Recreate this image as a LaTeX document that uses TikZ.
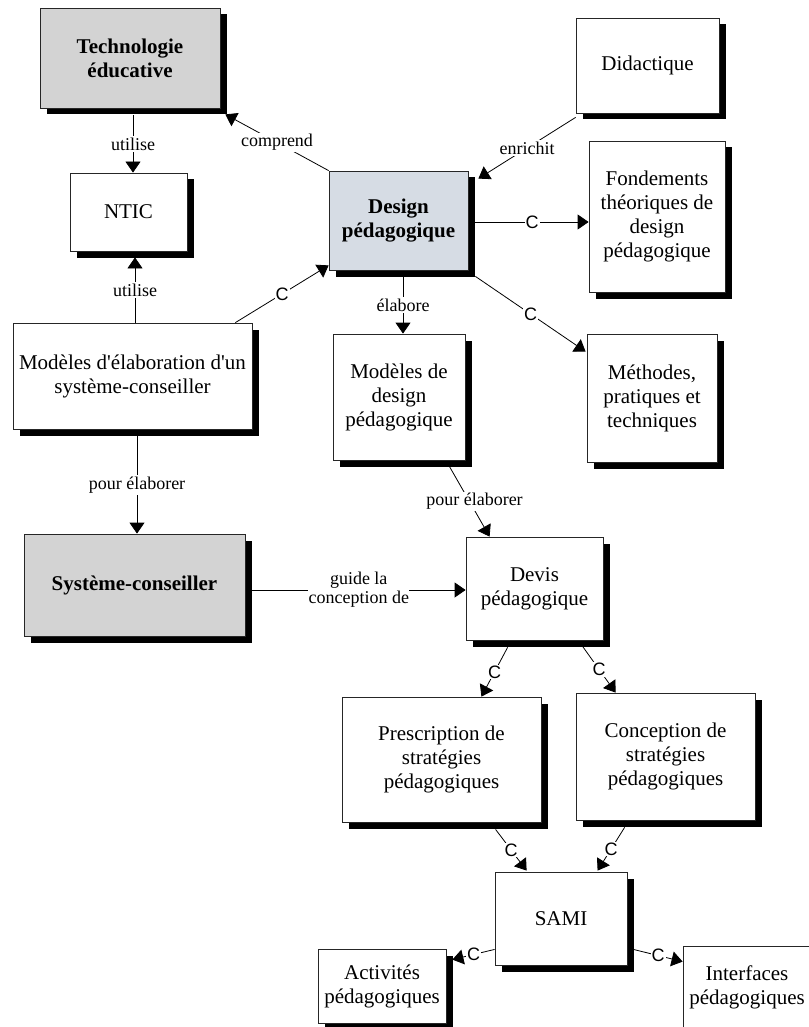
\documentclass[tikz,border=0pt]{standalone}
\usepackage{fontspec}
\setmainfont{Liberation Serif}
\newfontfamily\labsans{Liberation Sans}
\usetikzlibrary{arrows.meta,calc,shadows}

\definecolor{boxgray}{RGB}{211,211,211}
\definecolor{boxblue}{RGB}{214,220,228}

\tikzset{
  box/.style={draw=black!85, line width=0.8pt, fill=white, inner sep=0pt,
    align=center, font=\fontsize{21}{24}\selectfont,
    general shadow={fill=black, shadow xshift=6.5pt, shadow yshift=-6.5pt}},
  keybox/.style={box, fill=boxgray, font=\fontsize{21}{24}\selectfont\bfseries},
  corebox/.style={box, fill=boxblue, font=\fontsize{21}{24}\selectfont\bfseries},
  link/.style={draw, line width=0.8pt, -{Triangle[length=11pt,width=15pt]}},
  lab/.style={fill=white, inner sep=1.5pt, font=\fontsize{18}{20}\selectfont, align=center},
  clab/.style={fill=white, inner sep=1pt, font=\labsans\fontsize{18}{20}\selectfont}
}

\begin{document}
\begin{tikzpicture}[x=1pt, y=-1pt]
\useasboundingbox (0,0) rectangle (808,1027);

% concepts
\node[keybox, minimum width=180pt, minimum height=100pt] (tech) at (130,58) {Technologie\\éducative};
\node[box, minimum width=117pt, minimum height=78pt] (ntic) at (128.5,212) {NTIC};
\node[corebox, minimum width=139pt, minimum height=99pt] (design) at (398.5,220.5) {Design\\pédagogique};
\node[box, minimum width=143pt, minimum height=95pt] (did) at (647.5,65.5) {Didactique};
\node[box, minimum width=136pt, minimum height=151pt] (fond) at (657,216.5) {Fondements\\théoriques de\\design\\pédagogique};
\node[box, minimum width=239pt, minimum height=106pt] (modelab) at (132.5,376) {Modèles d\textquotesingle élaboration d\textquotesingle un\\système-conseiller};
\node[box, minimum width=132pt, minimum height=126pt] (moddes) at (399,397) {Modèles de\\design\\pédagogique};
\node[box, minimum width=130pt, minimum height=128pt] (meth) at (652,398) {Méthodes,\\pratiques et\\techniques};
\node[keybox, minimum width=221pt, minimum height=102pt] (sys) at (134.5,585) {Système-conseiller};
\node[box, minimum width=137pt, minimum height=103pt] (devis) at (534.5,588.5) {Devis\\pédagogique};
\node[box, minimum width=199pt, minimum height=125pt] (presc) at (441.5,759.5) {Prescription de\\stratégies\\pédagogiques};
\node[box, minimum width=179pt, minimum height=127pt] (conc) at (665.5,756.5) {Conception de\\stratégies\\pédagogiques};
\node[box, minimum width=132pt, minimum height=93pt] (sami) at (561,918.5) {SAMI};
\node[box, minimum width=128pt, minimum height=74pt] (act) at (382,986) {Activités\\pédagogiques};
\node[box, minimum width=128pt, minimum height=82pt] (intf) at (747,987) {Interfaces\\pédagogiques};

% relations
\draw[link] (design.north west) -- node[lab]{comprend} ($(tech.south east)+(5,6)$);
\draw[link] ($(tech.south)+(3,7)$) -- node[lab]{utilise} ($(ntic.north)+(4.5,0)$);
\draw[link] ($(did.south west)+(0,4)$) -- node[lab]{enrichit} ($(design.north east)+(10,8)$);
\draw[link] ($(design.east)+(7,1.5)$) -- node[clab]{C} ($(fond.west)+(0,5.5)$);
\draw[link] ($(design.south east)+(7,6)$) -- node[clab]{C} ($(meth.north west)+(-1,18)$);
\draw[link] ($(design.south)+(4.5,6)$) -- node[lab]{élabore} ($(moddes.north)+(4,0)$);
\draw[link] ($(modelab.north east)+(-17,0)$) -- node[clab]{C} ($(design.south west)+(0,-5)$);
\draw[link] ($(modelab.north)+(2.5,0)$) -- node[lab]{utilise} ($(ntic.south)+(6.5,6)$);
\draw[link] ($(modelab.south)+(4.5,7)$) -- node[lab]{pour élaborer} ($(sys.north)+(2.5,0)$);
\draw[link] ($(moddes.south east)+(-16,6)$) -- node[lab, xshift=5pt]{pour élaborer} ($(devis.north west)+(24,0)$);
\draw[link] ($(sys.east)+(6.5,5)$) -- node[lab, inner sep=0.5pt, font=\fontsize{18}{19}\selectfont]{guide la\\conception de} ($(devis.west)+(0,1.5)$);
\draw[link] ($(devis.south west)+(42,7)$) -- node[clab]{C} ($(presc.north east)+(-60,0)$);
\draw[link] ($(devis.south west)+(117,6)$) -- node[clab]{C} ($(conc.north west)+(40,0)$);
\draw[link] ($(presc.south west)+(154,7)$) -- node[clab]{C} ($(sami.north west)+(32,-1)$);
\draw[link] ($(conc.south west)+(49,7)$) -- node[clab]{C} ($(sami.north west)+(103,-1)$);
\draw[link] ($(sami.south west)+(0,-16)$) -- node[clab]{C} ($(act.north east)+(6,11)$);
\draw[link] ($(sami.south east)+(6,-16)$) -- node[clab]{C} ($(intf.north west)+(0,16)$);
\end{tikzpicture}
\end{document}
